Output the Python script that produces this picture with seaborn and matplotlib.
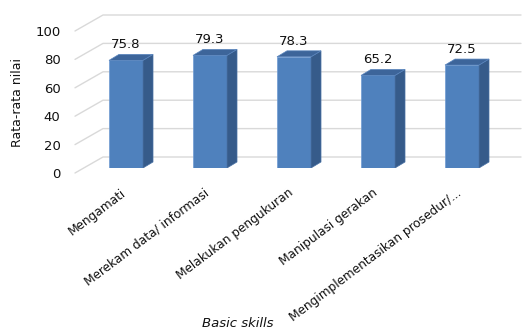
import numpy as np
import pandas as pd
import matplotlib
matplotlib.use("Agg")
import matplotlib.pyplot as plt
import matplotlib.transforms as mtransforms
from matplotlib.patches import Polygon
import seaborn as sns

# --- data ---
skills = ["Mengamati", "Merekam data/ informasi", "Melakukan pengukuran",
          "Manipulasi gerakan", "Mengimplementasikan prosedur/..."]
nilai = [75.8, 79.3, 78.3, 65.2, 72.5]
y_ticks = [0, 20, 40, 60, 80, 100]

df = pd.DataFrame({"skill": skills, "nilai": nilai})

sns.set_style("white")
plt.rcParams["font.family"] = ["DejaVu Sans"]

W, H = 523, 329
fig = plt.figure(figsize=(W / 100, H / 100), dpi=100)
# front plane: x index -0.5 at px 84, 4.5 at px 504; y 0 at px 168, 100 at px 26
ax = fig.add_axes([84 / W, (H - 168) / H, 420 / W, 142 / H])

px_x = 1 / 84.0      # data units per pixel (x)
px_y = 100 / 142.0   # data units per pixel (y)

# 3D-ish gridlines: front floor edge -> back wall -> right
grid_col = "#d9d9d9"
for v in y_ticks:
    xs = [-0.5 - 9 * px_x, -0.5 + 19 * px_x, 4.5 + 17 * px_x]
    ys = [v - 5 * px_y, v + 11 * px_y, v + 11 * px_y]
    ax.plot(xs, ys, color=grid_col, lw=1.0, clip_on=False, zorder=0)

sns.barplot(data=df, x="skill", y="nilai", color="#4f81bd", width=0.405,
            saturation=1, edgecolor="#6e9bd2", linewidth=0.5, ax=ax, zorder=2)

dx, dy = 10 * px_x, 6 * px_y
for p in ax.patches:
    x0, w, h = p.get_x(), p.get_width(), p.get_height()
    side = Polygon([(x0 + w, 0), (x0 + w + dx, dy), (x0 + w + dx, h + dy), (x0 + w, h)],
                   closed=True, facecolor="#365b8a", edgecolor="#4a72a6", lw=0.5, zorder=3)
    top = Polygon([(x0, h), (x0 + w, h), (x0 + w + dx, h + dy), (x0 + dx, h + dy)],
                  closed=True, facecolor="#3d659a", edgecolor="#5a86bf", lw=0.5, zorder=3)
    ax.add_patch(side)
    ax.add_patch(top)
    ax.text(x0 + w / 2, h + dy + 3 * px_y, f"{h:.1f}", ha="center", va="bottom",
            fontsize=9.5, color="#111111", zorder=4)

ax.set_xlim(-0.5, 4.5)
ax.set_ylim(0, 100)
ax.set_yticks(y_ticks)
ax.set_yticklabels([str(v) for v in y_ticks], fontsize=9.5, color="#111111")
ax.tick_params(axis="y", length=0, pad=17)
ax.set_xticks(range(len(skills)))
ax.set_xticklabels(skills, rotation=37, ha="right", rotation_mode="anchor",
                   fontsize=8.7, color="#111111")
ax.tick_params(axis="x", length=0, pad=13)

off_y = mtransforms.ScaledTranslation(0, -0.05, fig.dpi_scale_trans)
for lbl in ax.get_yticklabels():
    lbl.set_transform(lbl.get_transform() + off_y)
off_x = mtransforms.ScaledTranslation(-0.06, 0, fig.dpi_scale_trans)
for lbl in ax.get_xticklabels():
    lbl.set_transform(lbl.get_transform() + off_x)

for s in ax.spines.values():
    s.set_visible(False)

ax.set_ylabel("Rata-rata nilai", fontsize=9, color="#111111")
ax.yaxis.set_label_coords(-0.143, 0.458)
ax.set_xlabel("Basic skills", fontsize=9.5, style="italic", color="#111111")
ax.xaxis.set_label_coords(0.367, -1.05)

fig.savefig("out.png", dpi=100, facecolor="white")
